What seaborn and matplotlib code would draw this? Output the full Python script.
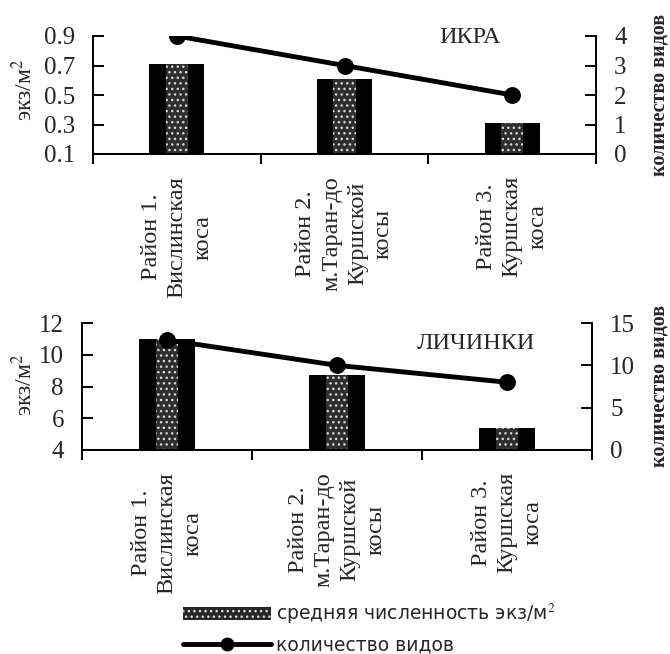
import matplotlib
matplotlib.use("Agg")
import matplotlib.pyplot as plt
import seaborn as sns
from matplotlib.patches import Rectangle, Patch
from matplotlib.lines import Line2D

# Survey regions (category labels, wrapped as printed)
regions = [
    "Район 1.\nВислинская\nкоса",
    "Район 2.\nм.Таран-до\nКуршской\nкосы",
    "Район 3.\nКуршская\nкоса",
]

# Eggs: mean abundance (ind./m²) and number of species
egg_density = [0.71, 0.61, 0.31]
egg_species = [4, 3, 2]
egg_ticks = [0.1, 0.3, 0.5, 0.7, 0.9]
egg_species_ticks = [0, 1, 2, 3, 4]

# Larvae: mean abundance (ind./m²) and number of species
larva_density = [11.0, 8.7, 5.4]
larva_species = [13, 10, 8]
larva_ticks = [4, 6, 8, 10, 12]
larva_species_ticks = [0, 5, 10, 15]

sns.set_theme(style="ticks")
plt.rcParams["font.family"] = ["Liberation Serif", "DejaVu Serif"]
plt.rcParams["mathtext.fontset"] = "stix"
plt.rcParams["axes.linewidth"] = 1.4

W, H = 670, 654
fig = plt.figure(figsize=(W / 100, H / 100), dpi=100)

TICK_FS = 18
CAT_FS = 17.5


def px_axes(left, top, right, bottom):
    return fig.add_axes([left / W, 1 - bottom / H, (right - left) / W, (bottom - top) / H])


def speckle(ax):
    # grainy light band down the middle of each bar
    for p in list(ax.patches):
        x, y = p.get_x(), p.get_y()
        w, h = p.get_width(), p.get_height()
        ax.add_patch(Rectangle((x + 0.3 * w, y), 0.4 * w, h, facecolor="#2e2e2e",
                               edgecolor="#d8d8d8", hatch="...", linewidth=0,
                               zorder=p.get_zorder() + 0.1))


def panel(ax, density, species, yticks, sticks, title, title_pos):
    sns.barplot(x=regions, y=density, ax=ax, color="black", width=0.33,
                saturation=1, edgecolor="black", linewidth=0)
    speckle(ax)
    ax2 = ax.twinx()
    sns.pointplot(x=regions, y=species, ax=ax2, color="black", markers="o",
                  markersize=9.5, linewidth=3.5)

    ax.set_xlim(-0.5, 2.5)
    ax.set_xticks(range(len(regions)))
    ax.set_xticklabels(regions, rotation=90, multialignment="center",
                       fontsize=CAT_FS, linespacing=1.3)
    ax.set_xticks([-0.5, 0.5, 1.5, 2.5], minor=True)
    ax.tick_params(axis="x", which="major", length=0, pad=16)
    ax.tick_params(axis="x", which="minor", length=7, width=1.4, direction="out", color="black")
    ax.set_ylim(yticks[0], yticks[-1])
    ax.set_yticks(yticks)
    ax.set_yticklabels([f"{t:g}" for t in yticks], fontsize=TICK_FS)
    ax.tick_params(axis="y", direction="in", length=8, width=1.4, pad=13, color="black")
    ax.set_xlabel("")
    ax.set_ylabel("")

    ax2.set_ylim(sticks[0], sticks[-1])
    ax2.set_yticks(sticks)
    ax2.set_yticklabels([str(t) for t in sticks], fontsize=TICK_FS)
    ax2.tick_params(axis="y", direction="in", length=8, width=1.4, pad=13, color="black")
    ax2.set_ylabel("")
    ax2.set_xlabel("")

    for a in (ax, ax2):
        a.spines["top"].set_visible(False)
        for s in ("left", "right", "bottom"):
            a.spines[s].set_color("black")
    ax2.spines["left"].set_visible(False)
    ax.spines["right"].set_visible(False)

    ax.text(*title_pos, title, transform=ax.transAxes, ha="center", va="center", fontsize=CAT_FS)
    return ax2


ax_top = px_axes(93, 36, 596, 154)
panel(ax_top, egg_density, egg_species, egg_ticks, egg_species_ticks, "ИКРА", (0.75, 0.99))

ax_bot = px_axes(82, 323, 592, 450)
panel(ax_bot, larva_density, larva_species, larva_ticks, larva_species_ticks, "ЛИЧИНКИ", (0.773, 0.835))

# axis titles
for yc in (90, 385):
    fig.text(24 / W, 1 - yc / H, "экз/м$^2$", rotation=90, ha="center", va="center", fontsize=17)
for yc in (95, 386):
    fig.text(660 / W, 1 - yc / H, "количество видов", rotation=90, ha="center", va="center",
             fontsize=14.5, fontweight="bold")

handles = [
    Patch(facecolor="#262626", edgecolor="#dddddd", hatch="...", linewidth=0),
    Line2D([], [], color="black", linewidth=3.5, marker="o", markersize=9),
]
fig.legend(handles, ["средняя численность экз/м$^2$", "количество видов"],
           loc="upper left", bbox_to_anchor=(183 / W, 1 - 602 / H), frameon=False,
           prop={"family": "DejaVu Sans", "size": 13.5}, handlelength=4.7,
           handletextpad=0.25, labelspacing=0.5, borderpad=0, borderaxespad=0)

fig.savefig("out.png", dpi=100, facecolor="white")
